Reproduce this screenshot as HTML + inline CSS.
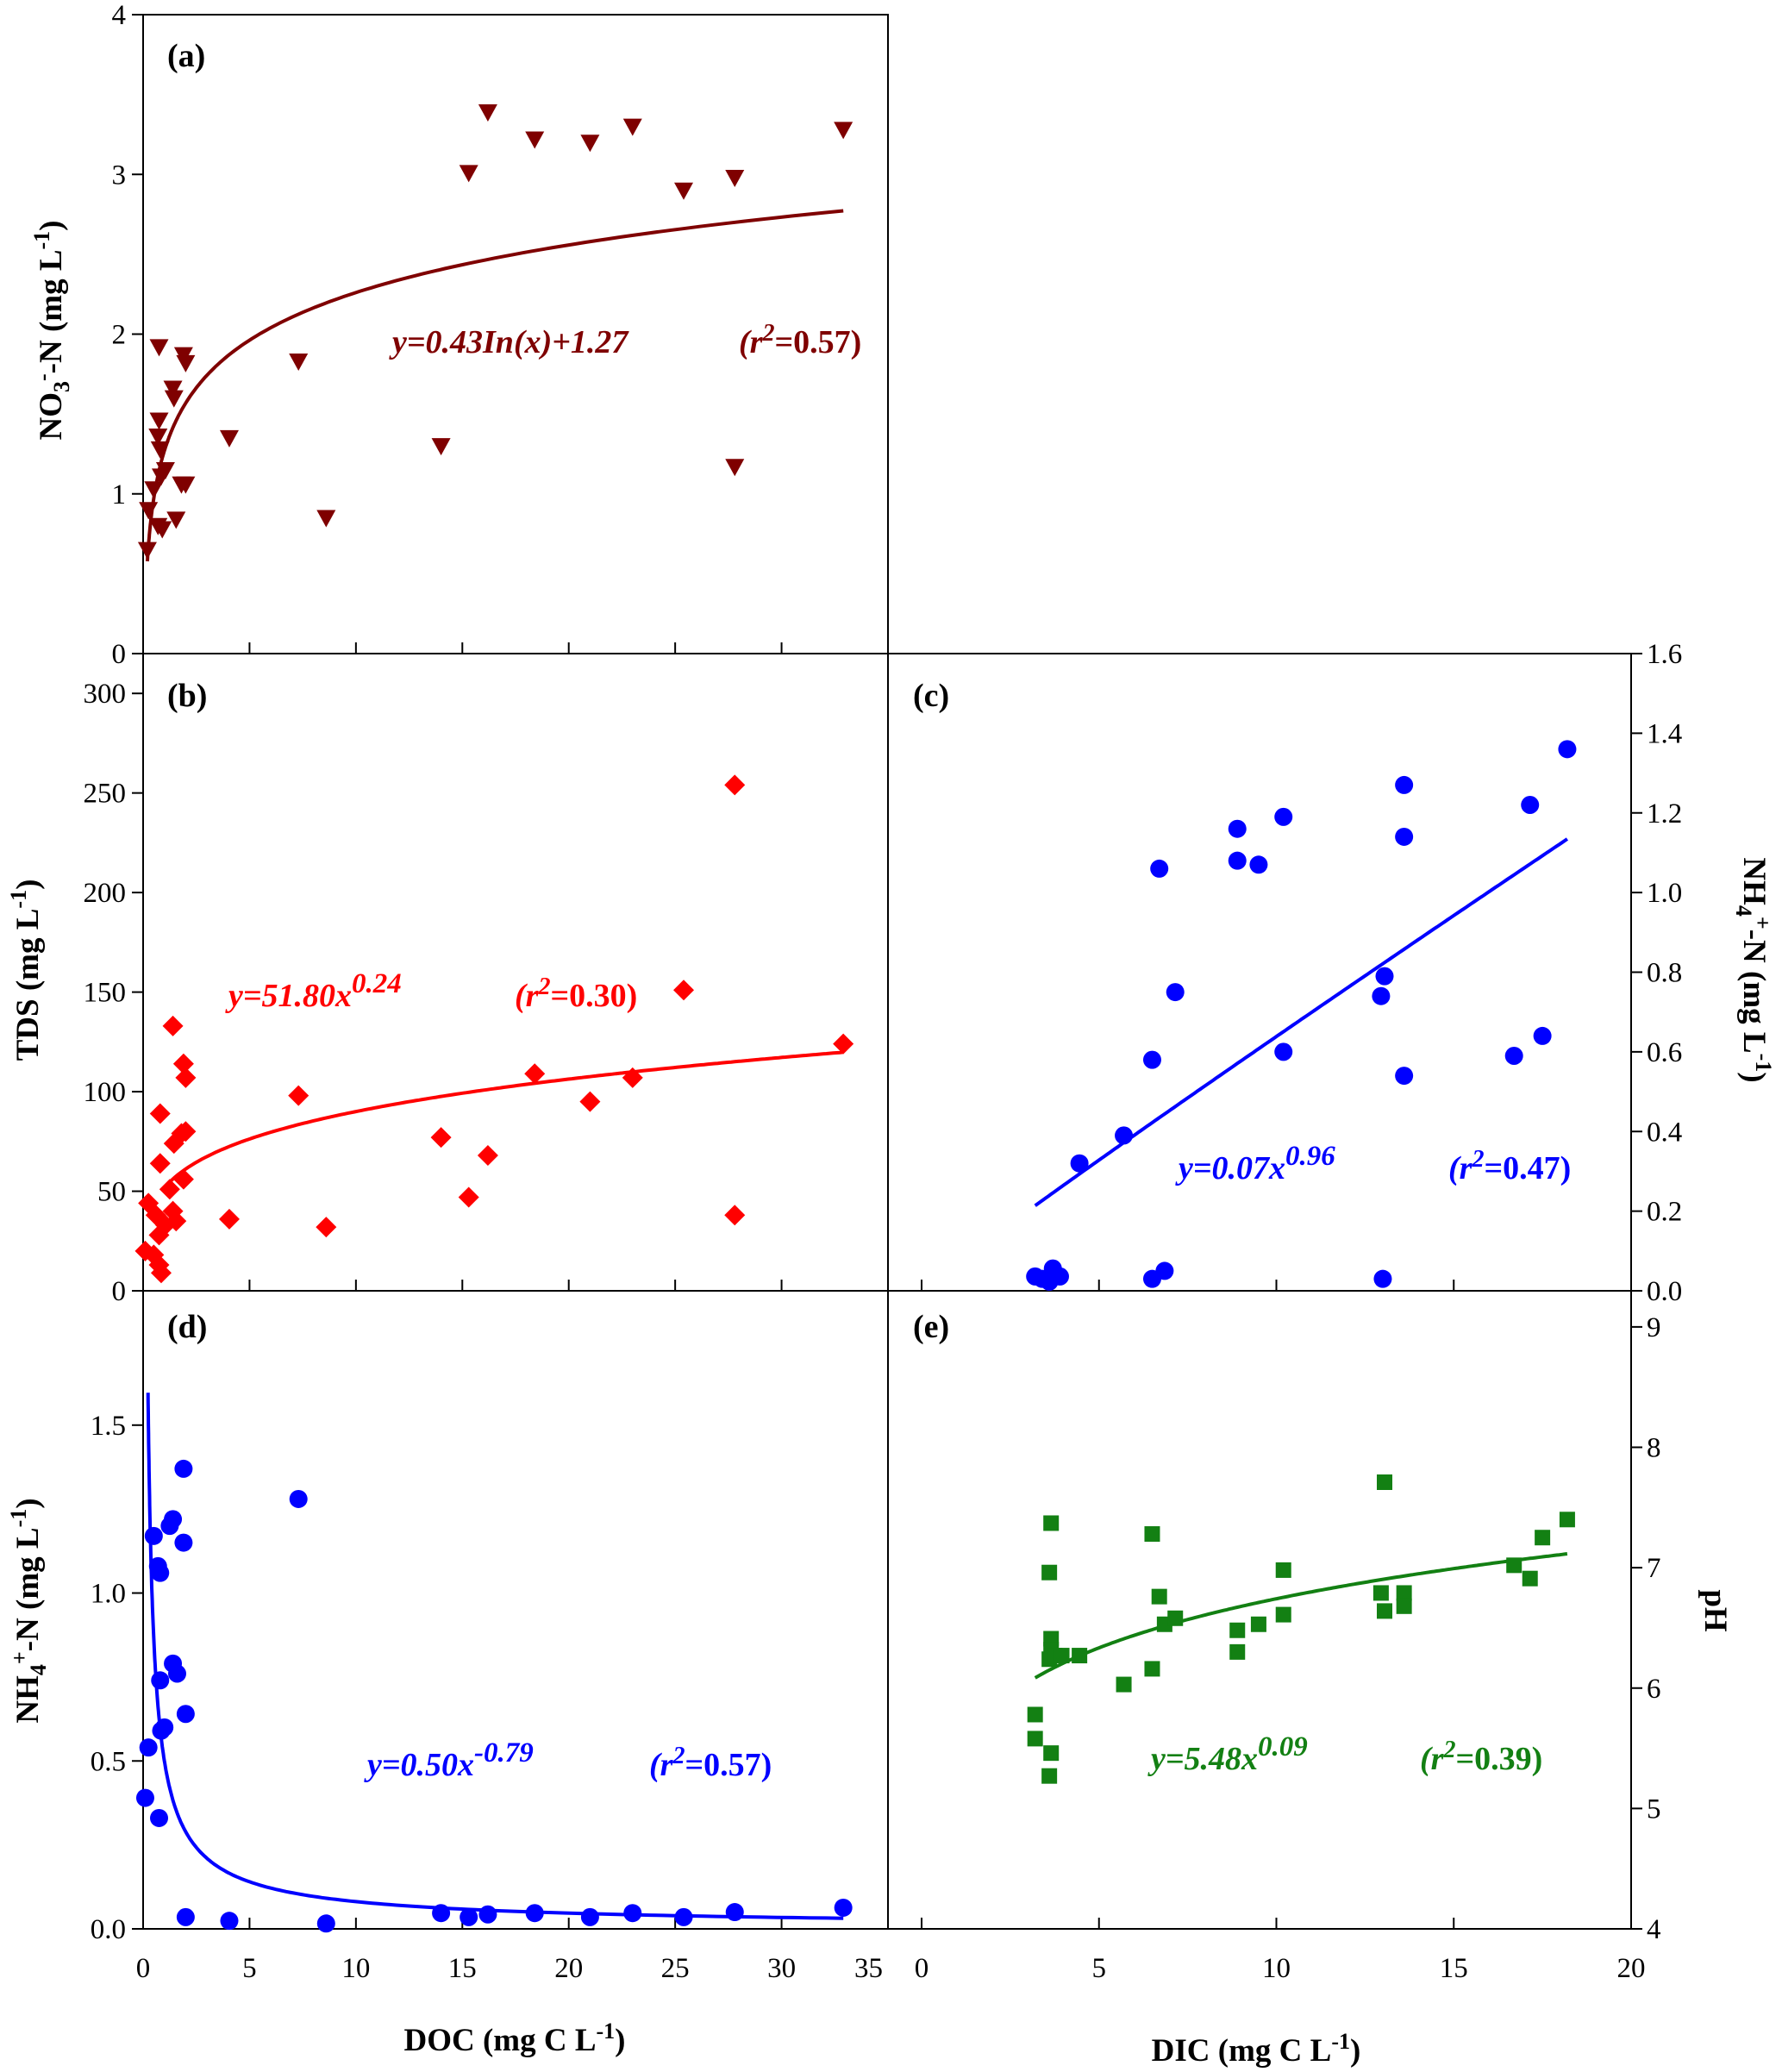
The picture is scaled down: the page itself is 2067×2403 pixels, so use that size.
<!DOCTYPE html>
<html><head><meta charset="utf-8"><style>
html,body{margin:0;padding:0;background:#fff;}
svg{display:block;font-family:"Liberation Serif",serif;}
</style></head><body>
<svg id="chart" width="2067" height="2403" viewBox="0 0 2067 2403" xmlns="http://www.w3.org/2000/svg"></svg>
<script>
// ---------- data ----------
const docA = [0.2,0.25,0.5,0.75,0.75,0.7,0.8,0.7,0.9,1.05,0.85,1.4,1.45,1.9,2.0,1.8,1.55,2.0,4.05,7.3,8.6,14,15.3,16.2,18.4,21,23,25.4,27.8,27.8,32.9];
const no3A = [0.65,0.9,1.03,1.92,1.46,1.36,1.28,0.8,0.78,1.15,1.11,1.66,1.6,1.87,1.82,1.06,0.84,1.06,1.35,1.83,0.85,1.3,3.01,3.39,3.22,3.2,3.3,2.9,2.98,1.17,3.28];
const docB = [0.1,0.25,0.5,0.75,0.85,0.6,0.75,1.05,1.4,0.8,0.8,1.4,1.45,1.55,1.8,2.0,1.9,1.9,2.0,1.25,4.05,7.3,8.6,14,15.3,16.2,18.4,21,23,25.4,27.8,27.8,32.9];
const tdsB = [20,44,18,13,9,38,28,33,40,64,89,133,74,35,79,80,56,114,107,51,36,98,32,77,47,68,109,95,107,151,254,38,124];
const dicC = [3.2,3.7,3.6,3.9,3.4,6.5,6.85,13,4.45,5.7,6.5,6.7,7.15,8.9,8.9,9.5,10.2,10.2,12.95,13.05,13.6,13.6,13.6,16.7,17.15,17.5,18.2];
const nh4C = [0.036,0.056,0.023,0.036,0.03,0.03,0.05,0.03,0.32,0.39,0.58,1.06,0.75,1.16,1.08,1.07,1.19,0.6,0.74,0.79,1.27,1.14,0.54,0.59,1.22,0.64,1.36];
const docD = [0.1,0.25,0.5,0.7,0.8,0.75,0.8,0.85,1.0,1.25,1.4,1.4,1.6,1.9,1.9,2.0,2.0,4.05,7.3,8.6,14,15.3,16.2,18.4,21,23,25.4,27.8,32.9];
const nh4D = [0.39,0.54,1.17,1.08,1.06,0.33,0.74,0.59,0.6,1.2,1.22,0.79,0.76,1.37,1.15,0.64,0.035,0.024,1.28,0.016,0.047,0.035,0.043,0.047,0.035,0.047,0.035,0.05,0.063];
const dicE = [3.2,3.2,3.65,3.6,3.65,3.65,3.6,3.75,3.95,3.65,3.6,4.45,5.7,6.5,6.5,6.7,6.85,7.15,8.9,8.9,9.5,10.2,10.2,12.95,13.05,13.05,13.6,13.6,16.7,17.15,17.5,18.2];
const phE = [5.78,5.58,7.37,6.96,6.41,6.32,6.24,6.27,6.27,5.46,5.27,6.27,6.03,6.16,7.28,6.76,6.53,6.58,6.3,6.48,6.53,6.98,6.61,6.79,7.71,6.64,6.79,6.68,7.02,6.91,7.25,7.4];
const docTicks = [0,5,10,15,20,25,30,35];
const dicTicks = [0,5,10,15,20];
const no3Ticks = [0,1,2,3,4];
const tdsTicks = [0,50,100,150,200,250,300];
const nh4CTicks = [0,0.2,0.4,0.6,0.8,1.0,1.2,1.4,1.6];
const nh4DTicks = [0,0.5,1.0,1.5];
const phTicks = [4,5,6,7,8,9];

// ---------- layout ----------
const NS='http://www.w3.org/2000/svg';
const svg=document.getElementById('chart');
const L=166,M=1030,R=1892,T0=17,T1=758,T2=1497,T3=2237;
function el(tag,attrs,parent){const e=document.createElementNS(NS,tag);for(const k in attrs)e.setAttribute(k,attrs[k]);(parent||svg).appendChild(e);return e;}
function lin(d0,d1,r0,r1){return v=>r0+(v-d0)/(d1-d0)*(r1-r0);}
const xDoc=lin(0,35,L,M);
const xDic=lin(0,20,1069,R);
const yA=lin(0,4,T1,T0);
const yB=lin(0,320,T2,T1);
const yC=lin(0,1.6,T2,T1);
const yD=lin(0,1.9,T3,T2);
const yE=lin(4,9.3,T3,T2);

const frames=[[L,T0,M-L,T1-T0,'panel-a-frame'],[L,T1,M-L,T2-T1,'panel-b-frame'],[M,T1,R-M,T2-T1,'panel-c-frame'],[L,T2,M-L,T3-T2,'panel-d-frame'],[M,T2,R-M,T3-T2,'panel-e-frame']];
frames.forEach(f=>{const r=el('rect',{x:f[0],y:f[1],width:f[2],height:f[3],fill:'none',stroke:'#000','stroke-width':2});

});

function txt(x,y,s,attrs,name){const t=el('text',Object.assign({x:x,y:y},attrs));t.textContent=s;

return t;}

function yAxisLeft(ticks,sc,fmt,name){ticks.forEach(v=>{const y=sc(v);
const l=el('line',{x1:L-13,y1:y,x2:L,y2:y,stroke:'#000','stroke-width':2});


txt(L-20,y+11,fmt(v),{'font-size':33,'text-anchor':'end'},name+'-tick-label');});}
function yAxisRight(ticks,sc,fmt,name){ticks.forEach(v=>{const y=sc(v);
const l=el('line',{x1:R,y1:y,x2:R+13,y2:y,stroke:'#000','stroke-width':2});


txt(R+18,y+11,fmt(v),{'font-size':33,'text-anchor':'start'},name+'-tick-label');});}
function xTicksIn(ticks,sc,ybase,name,labels){ticks.forEach(v=>{const x=sc(v);
const l=el('line',{x1:x,y1:ybase,x2:x,y2:ybase-13,stroke:'#000','stroke-width':2});


if(labels)txt(x,2293,String(v),{'font-size':33,'text-anchor':'middle'},name+'-tick-label');});}

yAxisLeft(no3Ticks,yA,v=>String(v),'no3-y-axis');
yAxisLeft(tdsTicks,yB,v=>String(v),'tds-y-axis');
yAxisLeft(nh4DTicks,yD,v=>v.toFixed(1),'nh4-doc-y-axis');
yAxisRight(nh4CTicks,yC,v=>v.toFixed(1),'nh4-dic-y-axis');
yAxisRight(phTicks,yE,v=>String(v),'ph-y-axis');
xTicksIn(docTicks.slice(1,-1),xDoc,T1,'doc-a-x-axis',false);
xTicksIn(docTicks.slice(1,-1),xDoc,T2,'doc-b-x-axis',false);
xTicksIn(dicTicks.slice(0,-1),xDic,T2,'dic-c-x-axis',false);
xTicksIn(docTicks.slice(0,-1),xDoc,T3,'doc-d-x-axis',true);
txt(M-6,2293,'35',{'font-size':33,'text-anchor':'end'},'doc-x-tick-label-35');
xTicksIn(dicTicks.slice(0,-1),xDic,T3,'dic-e-x-axis',false);
dicTicks.forEach(v=>txt(xDic(v),2293,String(v),{'font-size':33,'text-anchor':'middle'},'dic-x-tick-label'));

function tri(cx,cy,c){const s=11;return el('polygon',{points:`${cx-s},${cy-9} ${cx+s},${cy-9} ${cx},${cy+11}`,fill:c});}
function dia(cx,cy,c){const s=12;return el('polygon',{points:`${cx},${cy-s} ${cx+s},${cy} ${cx},${cy+s} ${cx-s},${cy}`,fill:c});}
function circ(cx,cy,c){return el('circle',{cx:cx,cy:cy,r:10.5,fill:c});}
function sq(cx,cy,c){return el('rect',{x:cx-9,y:cy-9,width:18,height:18,fill:c});}
function scatter(xs,ys,sx,sy,fn,c,name){xs.forEach((x,i)=>{const m=fn(sx(x),sy(ys[i]),c);

});}
function curve(f,x0,x1,sx,sy,c,name,logspace){let d='';const n=200;for(let i=0;i<=n;i++){let x=logspace?Math.exp(Math.log(x0)+(Math.log(x1)-Math.log(x0))*i/n):x0+(x1-x0)*i/n;d+=(i?'L':'M')+sx(x).toFixed(1)+','+sy(f(x)).toFixed(1);}
const p=el('path',{d:d,fill:'none',stroke:c,'stroke-width':4});

}

const cA='#7f0000',cB='#ff0000',cC='#0000ff',cE='#138013';
curve(x=>0.43*Math.log(x)+1.27,0.2,32.9,xDoc,yA,cA,'fit-curve-a',true);
scatter(docA,no3A,xDoc,yA,tri,cA,'no3-point');
curve(x=>51.8*Math.pow(x,0.24),1.0,32.9,xDoc,yB,cB,'fit-curve-b',false);
scatter(docB,tdsB,xDoc,yB,dia,cB,'tds-point');
curve(x=>0.07*Math.pow(x,0.96),3.2,18.2,xDic,yC,cC,'fit-line-c',false);
scatter(dicC,nh4C,xDic,yC,circ,cC,'nh4-dic-point');
curve(x=>0.5*Math.pow(x,-0.79),0.23,32.9,xDoc,yD,cC,'fit-curve-d',true);
scatter(docD,nh4D,xDoc,yD,circ,cC,'nh4-doc-point');
curve(x=>5.48*Math.pow(x,0.09),3.2,18.2,xDic,yE,cE,'fit-curve-e',false);
scatter(dicE,phE,xDic,yE,sq,cE,'ph-point');

[['(a)',194,77],['(b)',194,819],['(c)',1059,819],['(d)',194,1551],['(e)',1059,1551]].forEach(p=>txt(p[1],p[2],p[0],{'font-size':38,'font-weight':'bold'},'panel-label-'+p[0][1]));
</script>
<svg width="2067" height="2403" viewBox="0 0 2067 2403" style="position:absolute;left:0;top:0" font-family="Liberation Serif, serif">
<g font-size="38" font-weight="bold" font-style="italic">
<text x="455" y="409" fill="#7f0000">y=0.43In(x)+1.27</text>
<text x="857" y="409" fill="#7f0000">(r<tspan dy="-14" font-size="28">2</tspan><tspan dy="14" font-style="normal">=0.57)</tspan></text>
<text x="265" y="1167" fill="#ff0000">y=51.80x<tspan dy="-16" font-size="33">0.24</tspan></text>
<text x="597" y="1167" fill="#ff0000">(r<tspan dy="-14" font-size="28">2</tspan><tspan dy="14" font-style="normal">=0.30)</tspan></text>
<text x="1367" y="1367" fill="#0000ff">y=0.07x<tspan dy="-16" font-size="33">0.96</tspan></text>
<text x="1680" y="1367" fill="#0000ff">(r<tspan dy="-14" font-size="28">2</tspan><tspan dy="14" font-style="normal">=0.47)</tspan></text>
<text x="426" y="2059" fill="#0000ff">y=0.50x<tspan dy="-16" font-size="33">-0.79</tspan></text>
<text x="753" y="2059" fill="#0000ff">(r<tspan dy="-14" font-size="28">2</tspan><tspan dy="14" font-style="normal">=0.57)</tspan></text>
<text x="1335" y="2052" fill="#138013">y=5.48x<tspan dy="-16" font-size="33">0.09</tspan></text>
<text x="1647" y="2052" fill="#138013">(r<tspan dy="-14" font-size="28">2</tspan><tspan dy="14" font-style="normal">=0.39)</tspan></text>
</g>
<g font-size="37" font-weight="bold">
<text x="597" y="2378" text-anchor="middle">DOC (mg C L<tspan dy="-14" font-size="26">-1</tspan><tspan dy="14">)</tspan></text>
<text x="1457" y="2390" text-anchor="middle">DIC (mg C L<tspan dy="-14" font-size="26">-1</tspan><tspan dy="14">)</tspan></text>
<text transform="translate(71,383) rotate(-90)" text-anchor="middle">NO<tspan dy="9" font-size="26">3</tspan><tspan dy="-22" font-size="26">-</tspan><tspan dy="13">-N (mg L</tspan><tspan dy="-14" font-size="26">-1</tspan><tspan dy="14">)</tspan></text>
<text transform="translate(44,1125) rotate(-90)" text-anchor="middle">TDS (mg L<tspan dy="-14" font-size="26">-1</tspan><tspan dy="14">)</tspan></text>
<text transform="translate(44,1868) rotate(-90)" text-anchor="middle">NH<tspan dy="9" font-size="26">4</tspan><tspan dy="-22" font-size="26">+</tspan><tspan dy="13">-N (mg L</tspan><tspan dy="-14" font-size="26">-1</tspan><tspan dy="14">)</tspan></text>
<text transform="translate(2023,1125) rotate(90)" text-anchor="middle">NH<tspan dy="9" font-size="26">4</tspan><tspan dy="-22" font-size="26">+</tspan><tspan dy="13">-N (mg L</tspan><tspan dy="-14" font-size="26">-1</tspan><tspan dy="14">)</tspan></text>
<text transform="translate(1978,1868) rotate(90)" text-anchor="middle">pH</text>
</g>
</svg>
</body></html>
